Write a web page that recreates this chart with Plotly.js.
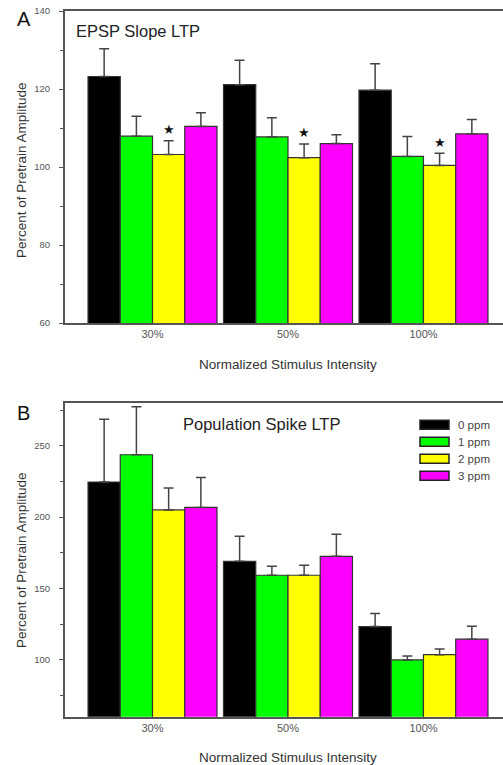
<!DOCTYPE html>
<html>
<head>
<meta charset="utf-8">
<script src="https://cdn.plot.ly/plotly-3.0.1.min.js"></script>
<style>html,body{margin:0;padding:0;background:#fff;}#chart{width:503px;height:765px;}</style>
</head>
<body>
<div id="chart"></div>
<script>
// ---- data ----
var categories = ['30%', '50%', '100%'];
var seriesNames = ['0 ppm', '1 ppm', '2 ppm', '3 ppm'];
var seriesColors = ['#000000', '#00ff00', '#ffff00', '#ff00ff'];

// Panel A: EPSP slope LTP (percent of pretrain)
var epsp0 = [123.2, 121.1, 119.7];
var epsp1 = [107.9, 107.7, 102.7];
var epsp2 = [103.2, 102.4, 100.4];
var epsp3 = [110.4, 106.0, 108.5];
var epspErr0 = [7.1, 6.3, 6.8];
var epspErr1 = [5.1, 4.9, 5.1];
var epspErr2 = [3.5, 3.5, 3.1];
var epspErr3 = [3.5, 2.3, 3.7];
var epspSignificant = [false, false, true, false]; // star over 2 ppm

// Panel B: population spike LTP
var spike0 = [224.6, 169.0, 123.2];
var spike1 = [243.7, 159.2, 99.8];
var spike2 = [205.0, 159.2, 103.5];
var spike3 = [206.8, 172.5, 114.4];
var spikeErr0 = [44.0, 17.6, 9.2];
var spikeErr1 = [33.6, 6.3, 2.8];
var spikeErr2 = [15.4, 7.0, 4.0];
var spikeErr3 = [21.0, 15.5, 9.1];

var epspVals = [epsp0, epsp1, epsp2, epsp3];
var epspErrs = [epspErr0, epspErr1, epspErr2, epspErr3];
var spikeVals = [spike0, spike1, spike2, spike3];
var spikeErrs = [spikeErr0, spikeErr1, spikeErr2, spikeErr3];

var font = 'Liberation Sans, Arial, sans-serif';
var W = 503, H = 765, ML = 65, PW = W - ML;
function px(x){ return (x - ML) / PW; }
function py(y){ return 1 - y / H; }
function zeros(n){ var a=[]; for(var i=0;i<n;i++) a.push(0); return a; }

var traces = [];
function addBars(vals, errs, xa, ya){
  for (var s = 0; s < vals.length; s++) {
    traces.push({
      type: 'bar', x: categories, y: vals[s], name: seriesNames[s],
      xaxis: xa, yaxis: ya, showlegend: false,
      marker: {color: seriesColors[s], line: {color: '#333', width: 1.2}},
      error_y: {type: 'data', symmetric: false, array: errs[s], arrayminus: zeros(vals[s].length),
                color: '#444', thickness: 1.5, width: 5}
    });
  }
}
addBars(epspVals, epspErrs, 'x', 'y');
addBars(spikeVals, spikeErrs, 'x2', 'y2');

var tickFontY = {family: font, size: 9.5, color: '#555'};
var tickFontX = {family: font, size: 11, color: '#555'};
var titleFont = {family: font, size: 13.5, color: '#333'};

var layout = {
  width: W, height: H,
  margin: {l: ML, r: 0, t: 0, b: 0},
  paper_bgcolor: '#fff', plot_bgcolor: '#fff',
  font: {family: font, color: '#333'},
  barmode: 'group', bargap: 0.048, bargroupgap: 0,
  showlegend: false,
  xaxis: {anchor: 'y', domain: [0, 1], type: 'category', range: [-0.646, 2.587],
          showline: true, linecolor: '#555', linewidth: 2, mirror: true,
          ticks: '', tickfont: tickFontX},
  yaxis: {anchor: 'x', domain: [py(323), py(11)], range: [60, 140], dtick: 20, tick0: 0,
          showline: true, linecolor: '#555', linewidth: 2, showgrid: false, zeroline: false,
          ticks: 'outside', ticklen: 4, tickcolor: '#555', tickwidth: 1,
          minor: {dtick: 10, ticks: 'outside', ticklen: 3, tickcolor: '#555', showgrid: false},
          tickfont: tickFontY, ticklabelstandoff: 7},
  xaxis2: {anchor: 'y2', domain: [0, 1], type: 'category', range: [-0.646, 2.587],
           showline: true, linecolor: '#555', linewidth: 2, mirror: true,
           ticks: '', tickfont: tickFontX},
  yaxis2: {anchor: 'x2', domain: [py(716.7), py(403)], range: [60, 280], dtick: 50, tick0: 0,
           showline: true, linecolor: '#555', linewidth: 2, showgrid: false, zeroline: false,
           ticks: 'outside', ticklen: 4, tickcolor: '#555', tickwidth: 1,
           minor: {dtick: 25, ticks: 'outside', ticklen: 3, tickcolor: '#555', showgrid: false},
           tickfont: tickFontY, ticklabelstandoff: 7},
  shapes: [],
  annotations: [
    {text: 'A', xref: 'paper', yref: 'paper', x: px(24), y: py(19), xanchor: 'center', yanchor: 'middle',
     showarrow: false, font: {family: font, size: 20, color: '#111'}},
    {text: 'B', xref: 'paper', yref: 'paper', x: px(23), y: py(413), xanchor: 'center', yanchor: 'middle',
     showarrow: false, font: {family: font, size: 20, color: '#111'}},
    {text: 'EPSP Slope LTP', xref: 'paper', yref: 'paper', x: px(74), y: py(31), xanchor: 'left', yanchor: 'middle',
     showarrow: false, font: {family: font, size: 16.5, color: '#222'}},
    {text: 'Population Spike LTP', xref: 'paper', yref: 'paper', x: px(181), y: py(424), xanchor: 'left', yanchor: 'middle',
     showarrow: false, font: {family: font, size: 16.5, color: '#222'}},
    {text: 'Percent of Pretrain Amplitude', xref: 'paper', yref: 'paper', x: px(21), y: py(170), textangle: -90,
     xanchor: 'center', yanchor: 'middle', showarrow: false, font: titleFont},
    {text: 'Percent of Pretrain Amplitude', xref: 'paper', yref: 'paper', x: px(21), y: py(560), textangle: -90,
     xanchor: 'center', yanchor: 'middle', showarrow: false, font: titleFont},
    {text: 'Normalized Stimulus Intensity', xref: 'paper', yref: 'paper', x: px(288), y: py(364),
     xanchor: 'center', yanchor: 'middle', showarrow: false, font: titleFont},
    {text: 'Normalized Stimulus Intensity', xref: 'paper', yref: 'paper', x: px(288), y: py(757),
     xanchor: 'center', yanchor: 'middle', showarrow: false, font: titleFont}
  ]
};

// legend (panel B): swatch + label per series
for (var li = 0; li < seriesNames.length; li++) {
  var cy = 424.7 + li * 17;
  layout.shapes.push({type: 'rect', xref: 'paper', yref: 'paper',
    x0: px(420), x1: px(449), y0: py(cy + 4.5), y1: py(cy - 4.5),
    fillcolor: seriesColors[li], line: {color: '#222', width: 1.5}});
  layout.annotations.push({text: seriesNames[li], xref: 'paper', yref: 'paper',
    x: px(455.5), y: py(cy), xanchor: 'left', yanchor: 'middle', showarrow: false,
    font: {family: font, size: 11.5, color: '#444'}});
}

// significance stars above flagged bars of panel A
var nS = seriesNames.length;
var groupW = 1 - layout.bargap;
for (var si = 0; si < nS; si++) {
  if (!epspSignificant[si]) continue;
  for (var ci = 0; ci < categories.length; ci++) {
    var off = -groupW/2 + groupW*(si + 0.5)/nS;
    layout.annotations.push({
      text: '★', xref: 'x', yref: 'y', x: ci + off,
      y: epspVals[si][ci] + epspErrs[si][ci] + 2.9,
      xanchor: 'center', yanchor: 'middle', showarrow: false,
      font: {family: 'DejaVu Sans, sans-serif', size: 13, color: '#111'}
    });
  }
}

Plotly.newPlot('chart', traces, layout, {staticPlot: true});
</script>
</body>
</html>
